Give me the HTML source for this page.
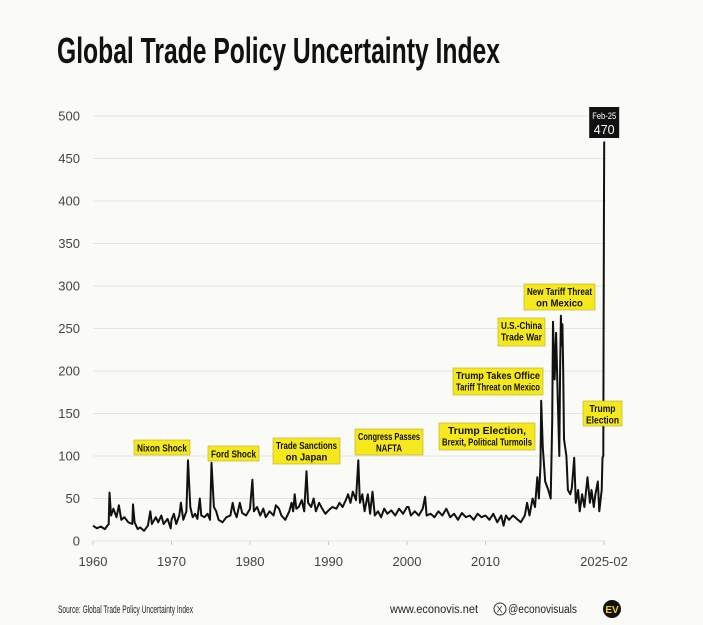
<!DOCTYPE html>
<html><head><meta charset="utf-8"><style>
html,body{margin:0;padding:0;background:#fafaf7;}
svg{display:block;font-family:"Liberation Sans Narrow","Liberation Sans",sans-serif;}
</style></head><body>
<svg id="chart" width="703" height="625" viewBox="0 0 703 625" xmlns="http://www.w3.org/2000/svg">
<rect width="703" height="625" fill="#fafaf7"/>
<text x="57" y="63" font-size="36" font-weight="bold" fill="#111" textLength="443" lengthAdjust="spacingAndGlyphs">Global Trade Policy Uncertainty Index</text>
<g id="grid"></g><g id="yticks"></g><g id="xticks"></g>
<path id="line" fill="none" stroke="#111" stroke-width="2" stroke-linejoin="round"/>
<g id="annotations"></g>
<text x="58" y="613" font-size="11" fill="#222" textLength="135" lengthAdjust="spacingAndGlyphs">Source: Global Trade Policy Uncertainty Index</text>
<text x="390" y="613" font-size="11.5" fill="#222" textLength="88" lengthAdjust="spacingAndGlyphs">www.econovis.net</text>
<circle cx="500" cy="609" r="6" fill="none" stroke="#333" stroke-width="1"/>
<text x="496.5" y="612.5" font-size="9" fill="#333">X</text>
<text x="508" y="613" font-size="11.5" fill="#222" textLength="69" lengthAdjust="spacingAndGlyphs">@econovisuals</text>
<circle cx="612" cy="609" r="9" fill="#111"/>
<text x="612" y="613" font-size="10" font-weight="bold" fill="#f2d21b" text-anchor="middle">EV</text>
</svg>
<script>
const years=[1960,1960.5,1961,1961.5,1962,1962.1,1962.3,1962.6,1963,1963.3,1963.6,1964,1964.5,1965,1965.1,1965.3,1965.7,1966,1966.5,1967,1967.3,1967.5,1968,1968.3,1968.7,1969,1969.5,1969.9,1970,1970.3,1970.6,1971,1971.2,1971.5,1971.9,1972.1,1972.4,1972.7,1973,1973.3,1973.6,1973.8,1974.2,1974.6,1974.9,1975.1,1975.4,1975.7,1976,1976.5,1977,1977.5,1977.8,1978,1978.3,1978.7,1979,1979.5,1980,1980.3,1980.5,1980.9,1981.3,1981.7,1982,1982.5,1983,1983.3,1983.7,1984,1984.5,1985,1985.3,1985.5,1985.7,1985.9,1986.2,1986.6,1986.9,1987.2,1987.4,1987.8,1988.1,1988.4,1988.8,1989.2,1989.6,1990,1990.5,1991,1991.4,1991.8,1992.2,1992.5,1992.8,1993.1,1993.5,1993.8,1994,1994.3,1994.6,1995,1995.3,1995.6,1995.9,1996.3,1996.7,1997.1,1997.5,1998,1998.5,1999,1999.5,2000,2000.2,2000.5,2001,2001.5,2002,2002.3,2002.5,2003,2003.5,2004,2004.5,2005,2005.5,2006,2006.5,2007,2007.5,2008,2008.5,2009,2009.5,2010,2010.5,2011,2011.5,2012,2012.3,2012.6,2013,2013.5,2014,2014.5,2015,2015.3,2015.6,2016,2016.3,2016.6,2016.8,2017,2017.1,2017.3,2017.6,2018,2018.3,2018.5,2018.6,2018.8,2019,2019.2,2019.4,2019.5,2019.6,2019.7,2019.8,2019.9,2020,2020.3,2020.5,2020.8,2021,2021.3,2021.5,2021.8,2022,2022.3,2022.6,2023,2023.3,2023.5,2023.8,2024,2024.3,2024.5,2024.8,2024.9,2025.0,2025.05,2025.08,2025.12];
const values=[18,15,17,14,20,57,30,38,28,42,25,28,22,20,43,22,14,16,12,18,35,20,28,22,30,20,26,15,25,32,20,30,45,25,35,95,40,28,32,26,50,30,28,32,25,92,40,35,25,22,28,30,45,35,28,45,33,30,38,72,35,40,30,38,28,35,30,42,38,30,25,35,45,35,55,38,40,48,35,82,45,40,50,35,45,38,32,36,40,38,45,40,48,55,45,58,48,95,45,55,35,55,32,58,30,35,28,38,32,36,30,38,32,40,40,30,35,30,38,52,30,32,28,35,30,38,28,32,25,33,28,30,25,32,28,30,25,32,22,30,18,30,25,30,26,22,30,45,30,50,40,75,50,90,165,110,70,60,50,140,258,190,245,170,100,200,265,230,255,200,120,100,60,55,62,98,45,60,35,55,40,75,45,60,40,55,70,35,60,98,100,250,370,470];
const yTicks=[0,50,100,150,200,250,300,350,400,450,500];
const xTickYears=[1960,1970,1980,1990,2000,2010,2025.1];
const xTickLabels=["1960","1970","1980","1990","2000","2010","2025-02"];
const annoLabels=[["Nixon Shock"],["Ford Shock"],["Trade Sanctions","on Japan"],["Congress Passes","NAFTA"],["Trump Election,","Brexit, Political Turmoils"],["Trump Takes Office","Tariff Threat on Mexico"],["U.S.-China","Trade War"],["New Tariff Threat","on Mexico"],["Trump","Election"]];
const annoBoxes=[[134,440,56,15],[208,446,51,15],[273,438,67,26],[355,429,68,26],[439,423,96,27],[453,368,90,27],[498,318,47,28],[524,284,71,26],[583,401,39,25]];
const NS="http://www.w3.org/2000/svg";
const x=v=>93+(v-1960)*7.85;
const y=v=>541-v*0.85;
function mk(tag,attrs,parent){const e=document.createElementNS(NS,tag);for(const k in attrs)e.setAttribute(k,attrs[k]);parent.appendChild(e);return e;}
const grid=document.getElementById('grid'),yt=document.getElementById('yticks'),xt=document.getElementById('xticks');
yTicks.forEach(t=>{
 const l=mk('line',{x1:93,x2:606,y1:y(t),y2:y(t),stroke:'#e4e4e0','stroke-width':1},grid);
 
 
 const tx=mk('text',{x:80,y:y(t)+4.5,'font-size':13,fill:'#444','text-anchor':'end'},yt);
 tx.textContent=t;
 
 
});
xTickYears.forEach((t,i)=>{
 mk('line',{x1:x(t),x2:x(t),y1:y(0),y2:y(0)+4,stroke:'#ccc'},xt);
 const tx=mk('text',{x:x(t),y:566,'font-size':13,fill:'#444','text-anchor':'middle'},xt);
 tx.textContent=xTickLabels[i];
 
 
});
document.getElementById('line').setAttribute('d',years.map((yr,i)=>(i?'L':'M')+x(yr).toFixed(1)+','+y(values[i]).toFixed(1)).join(''));
const an=document.getElementById('annotations');
annoLabels.forEach((lines,i)=>{
 const [bx,by,bw,bh]=annoBoxes[i];
 const g=mk('g',{},an);
 
 
 mk('rect',{x:bx,y:by,width:bw,height:bh,fill:'#f5e81c',stroke:'#b8ae2a','stroke-width':0.6},g);
 lines.forEach((s,j)=>{
  const t=mk('text',{x:bx+bw/2,y:by+(lines.length===1?11.5:11+j*11.5),'font-size':10.5,'font-weight':'bold',fill:'#111','text-anchor':'middle',textLength:Math.min(bw-6,s.length*5.2),lengthAdjust:'spacingAndGlyphs'},g);
  t.textContent=s;
 });
});
const last=values.length-1;
const px=x(years[last]);
const cg=mk('g',{},an);


mk('rect',{x:px-15,y:107,width:30,height:31,fill:'#111'},cg);
const t1=mk('text',{x:px,y:119,'font-size':9.5,fill:'#fff','text-anchor':'middle',textLength:24,lengthAdjust:'spacingAndGlyphs'},cg);t1.textContent='Feb-25';
const t2=mk('text',{x:px,y:134,'font-size':12.5,fill:'#fff','text-anchor':'middle'},cg);t2.textContent=values[last];
</script>
</body></html>
